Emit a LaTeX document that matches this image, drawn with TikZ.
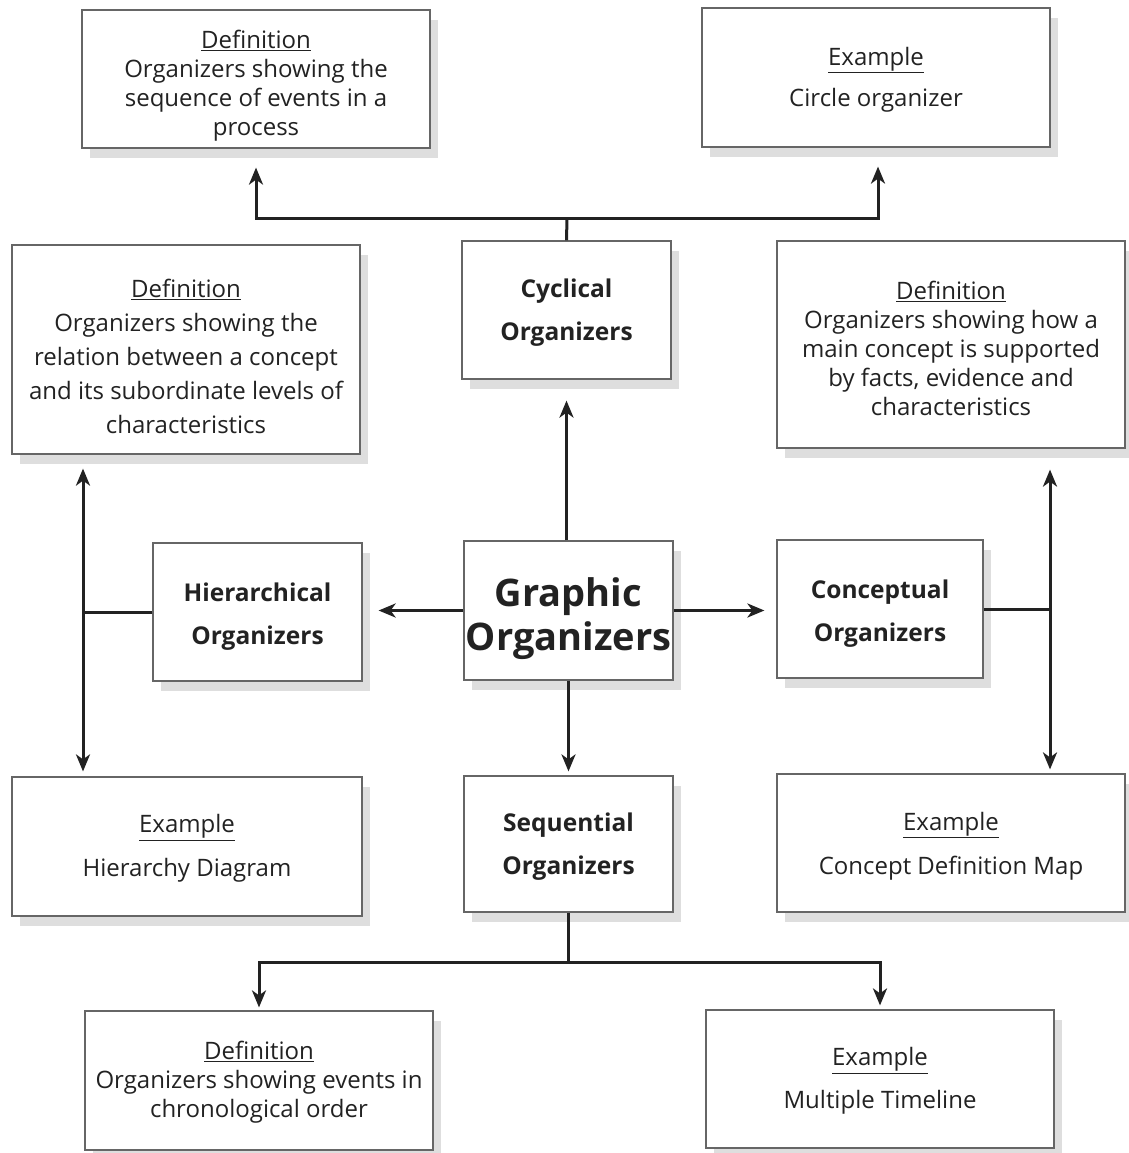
\documentclass[tikz,border=0pt]{standalone}
\usepackage{fontspec}
\setmainfont{Open Sans}
\usetikzlibrary{arrows.meta,shadows}
\definecolor{ink}{HTML}{222222}
\newcommand\vst[1]{\rule{0pt}{#1}}
\begin{document}
\begin{tikzpicture}[x=1pt,y=-1pt,
  box/.style={draw=black!60, line width=1.2pt, fill=white,
    drop shadow={shadow xshift=8pt, shadow yshift=-10pt, fill=black!13, opacity=1},
    align=center, text=ink, inner sep=0pt, font=\fontsize{24}{29}\selectfont},
  bigbox/.style={box, minimum width=348pt, minimum height=138pt},
  smallbox/.style={box, minimum width=209pt, minimum height=138pt, font=\bfseries\fontsize{24.5}{43}\selectfont},
  conn/.style={draw=ink, line width=3pt},
  arr/.style={conn, -{Stealth[length=17pt,width=14pt,inset=5pt]}}]
\fill[white] (0,0) rectangle (1128,1153);
\useasboundingbox (0,0) rectangle (1128,1153);

% top row
\node[bigbox] (dcyc) at (256,79) {\vst{32pt}\underline{Definition}\\Organizers showing the\\sequence of events in a\\process};
\node[bigbox, minimum height=139pt] (ecyc) at (876,77.5) {\vst{22pt}\underline{Example}\\[12pt]Circle organizer};

% second row
\node[bigbox, minimum height=209pt, font=\fontsize{24}{34}\selectfont] (dhier) at (186,349.5) {\vst{32pt}\underline{Definition}\\Organizers showing the\\relation between a concept\\and its subordinate levels of\\characteristics};
\node[smallbox] (cyc) at (566.5,310) {\vst{24pt}Cyclical\\Organizers};
\node[bigbox, minimum height=207pt] (dconc) at (951,344.5) {\vst{26pt}\underline{Definition}\\Organizers showing how a\\main concept is supported\\by facts, evidence and\\characteristics};

% middle row
\node[smallbox] (hier) at (257.5,612) {\vst{28pt}Hierarchical\\Organizers};
\node[smallbox, minimum height=139pt, font=\bfseries\fontsize{38}{44}\selectfont] (go) at (568.5,610.5) {\vst{45pt}Graphic\\Organizers};
\node[smallbox, minimum width=206pt] (conc) at (880,609) {\vst{28pt}Conceptual\\Organizers};

% fourth row
\node[bigbox, minimum width=350pt, minimum height=139pt] (ehier) at (187,846.5) {\vst{22pt}\underline{Example}\\[15pt]Hierarchy Diagram};
\node[smallbox, minimum height=136pt] (seq) at (568.5,844) {\vst{24pt}Sequential\\Organizers};
\node[bigbox] (econc) at (951,843) {\vst{24pt}\underline{Example}\\[15pt]Concept Definition Map};

% bottom row
\node[bigbox, minimum height=139pt] (dseq) at (259,1080.5) {\vst{22pt}\underline{Definition}\\Organizers showing events in\\chronological order};
\node[bigbox] (eseq) at (880,1079) {\vst{22pt}\underline{Example}\\[14pt]Multiple Timeline};

% connectors: cyclical
\coordinate (jc) at (567,218);
\draw[conn] (cyc.north) -- (jc);
\draw[arr, shorten >=19pt] (jc) -| (dcyc.south);
\draw[arr, shorten >=19pt] (jc) -| ([xshift=2pt]ecyc.south);

% from graphic organizers
\draw[arr, shorten >=21pt] (go.north -| cyc.south) -- (cyc.south);
\draw[arr, shorten >=16pt] (go.west) -- (go.west -| hier.east);
\draw[arr, shorten >=12pt] (go.east) -- (go.east -| conc.west);
\draw[arr, shorten >=4pt] (go.south) -- (go.south |- seq.north);

% hierarchical
\coordinate (jh) at (83,612);
\draw[conn] (hier.west) -- (jh);
\draw[arr, shorten >=14pt] (jh) -- (jh |- dhier.south);
\draw[arr, shorten >=5pt] (jh) -- (jh |- ehier.north);

% conceptual
\coordinate (jk) at (1050,609);
\draw[conn] (conc.east) -- (jk);
\draw[arr, shorten >=21pt] (jk) -- (jk |- dconc.south);
\draw[arr, shorten >=4pt] (jk) -- (jk |- econc.north);

% sequential
\coordinate (js) at (568.5,962);
\draw[conn] (seq.south) -- (js);
\draw[arr, shorten >=3pt] (js) -| (dseq.north);
\draw[arr, shorten >=4pt] (js) -| (eseq.north);
\end{tikzpicture}
\end{document}
